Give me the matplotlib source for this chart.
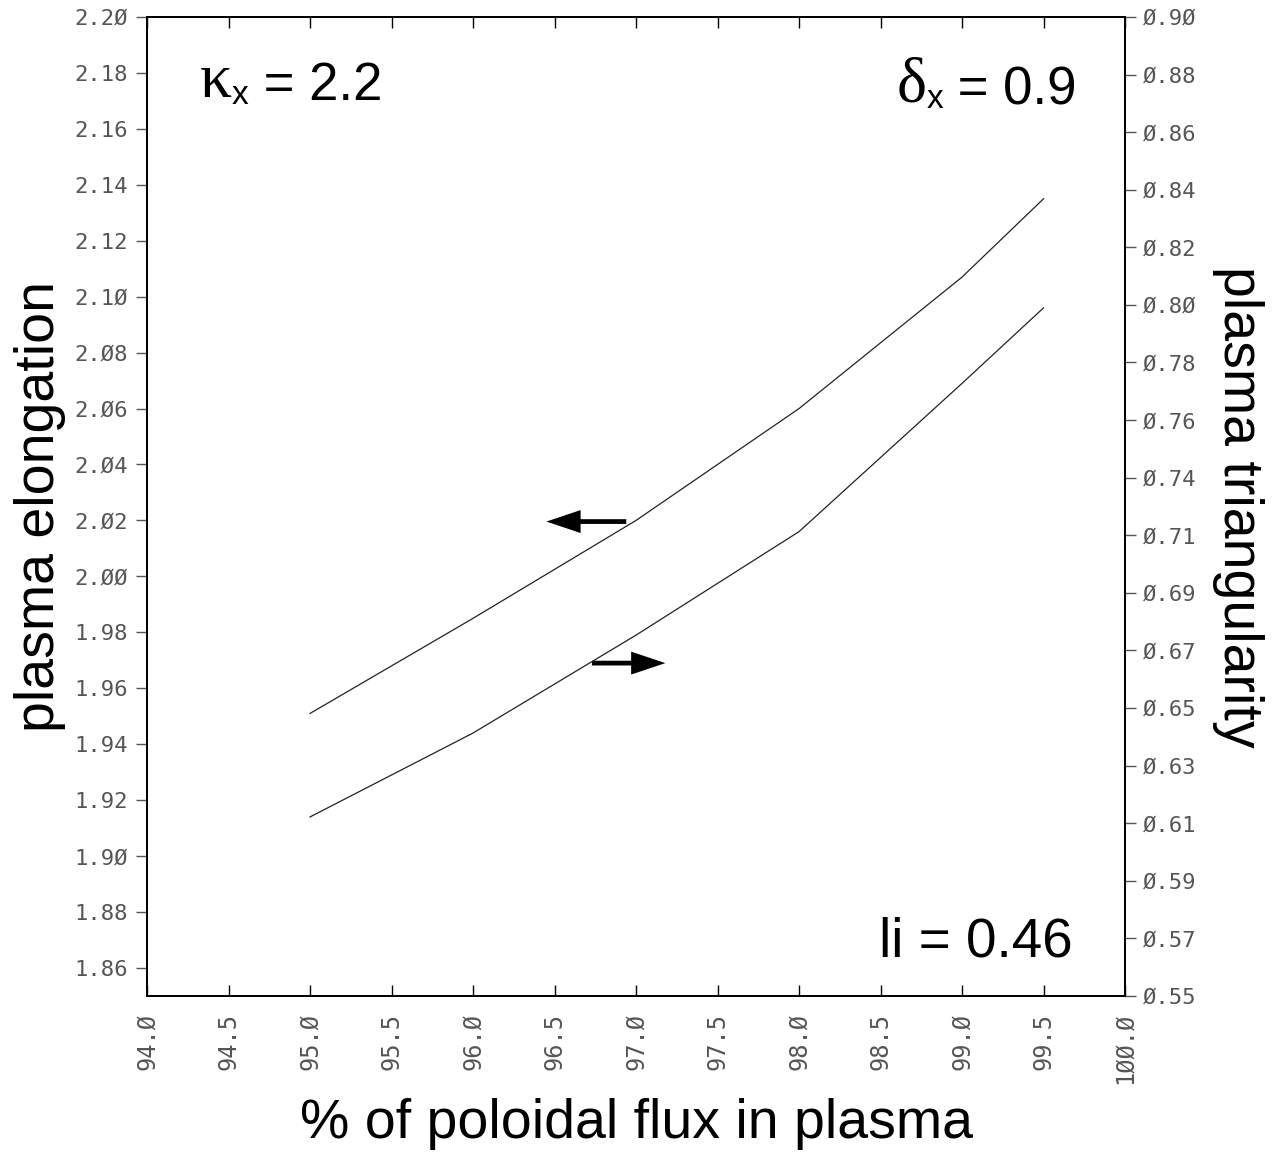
import matplotlib
matplotlib.use("Agg")
import matplotlib.pyplot as plt
import numpy as np
from matplotlib.ticker import FixedLocator, FuncFormatter

# values
flux = [95.0, 96.0, 97.0, 98.0, 99.0, 99.5]
elongation = [1.951, 1.985, 2.020, 2.060, 2.107, 2.135]
triangularity = [0.614, 0.644, 0.679, 0.716, 0.769, 0.796]

x_ticks = np.arange(94.0, 100.01, 0.5)
left_ticks = np.arange(1.86, 2.2001, 0.02)
right_ticks = np.linspace(0.55, 0.90, 18)

SANS = "Liberation Sans"
MONO = "DejaVu Sans Mono"
TICK_COLOR = "#555555"


def slashed(fmt):
    # the old plotting package draws zeros with a slash
    return FuncFormatter(lambda v, pos: format(v, fmt).replace("0", "\u00d8"))


fig = plt.figure(figsize=(12.84, 11.53), dpi=100)
ax = fig.add_axes([0.1145, 0.1362, 0.7617, 0.8491])
ax2 = ax.twinx()

ax.plot(flux, elongation, color="#222222", lw=0.9)
ax2.plot(flux, triangularity, color="#222222", lw=0.9)

ax.set_xlim(94.0, 100.0)
ax.set_ylim(1.85, 2.20)
ax2.set_ylim(0.55, 0.90)

ax.xaxis.set_major_locator(FixedLocator(x_ticks))
ax.yaxis.set_major_locator(FixedLocator(left_ticks))
ax2.yaxis.set_major_locator(FixedLocator(right_ticks))
ax.xaxis.set_major_formatter(slashed(".1f"))
ax.yaxis.set_major_formatter(slashed(".2f"))
ax2.yaxis.set_major_formatter(slashed(".2f"))

ax.tick_params(axis="x", direction="in", top=True, length=8, width=1,
               pad=12, labelsize=17, labelcolor=TICK_COLOR, labelrotation=90)
ax.tick_params(axis="y", direction="out", length=8, width=1, pad=6,
               labelsize=16, labelcolor=TICK_COLOR, color="#555555")
ax2.tick_params(axis="y", direction="out", length=8, width=1, pad=5,
                labelsize=16, labelcolor=TICK_COLOR, color="#555555")
for lab in ax.get_xticklabels() + ax.get_yticklabels() + ax2.get_yticklabels():
    lab.set_family(MONO)
for lab in ax.get_xticklabels():
    lab.set_va("top")

for sp in list(ax.spines.values()) + list(ax2.spines.values()):
    sp.set_linewidth(1.3)

ax.set_xlabel("% of poloidal flux in plasma", fontsize=40, family=SANS,
              labelpad=10)
ax.set_ylabel("plasma elongation", fontsize=40, family=SANS, labelpad=6)
ax2.set_ylabel("plasma triangularity", fontsize=40, family=SANS,
               rotation=-90, va="bottom", labelpad=11)

# arrows showing which axis each curve belongs to
ax.arrow(96.94, 2.0196, -0.49, 0, width=0.0017, head_width=0.0082,
         head_length=0.21, length_includes_head=True, fc="black", lw=0)
ax.arrow(96.73, 1.969, 0.45, 0, width=0.0017, head_width=0.0082,
         head_length=0.21, length_includes_head=True, fc="black", lw=0)


def label(x, y, sym, rest):
    t1 = ax.text(x, y, sym, transform=ax.transAxes, fontsize=46,
                 family="Liberation Serif", va="baseline", ha="left")
    t2 = ax.annotate("x", xy=(1, 0), xycoords=t1, fontsize=24, family=SANS,
                     va="bottom", ha="left")
    ax.annotate(rest, xy=(1, 0), xycoords=t2, fontsize=38, family=SANS,
                va="bottom", ha="left")


label(0.054, 0.918, "\u03ba", " = 2.2")
label(0.766, 0.914, "\u03b4", " = 0.9")
ax.text(0.748, 0.040, "li = 0.46", transform=ax.transAxes, fontsize=39.5,
        family=SANS, va="baseline", ha="left")

fig.savefig("out.png", dpi=100)
